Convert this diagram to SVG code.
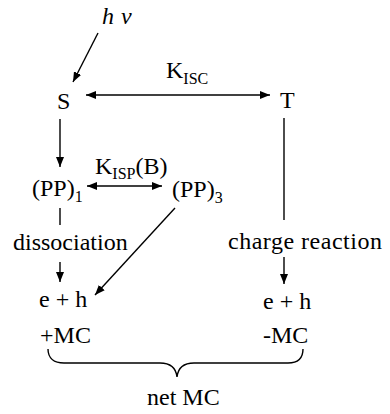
<svg xmlns="http://www.w3.org/2000/svg" width="390" height="414" viewBox="0 0 390 414">
<style>
text{font-family:"Liberation Serif","Times New Roman",serif;font-size:24px;fill:#000}
.sub{font-size:16px}
.ln{stroke:#000;stroke-width:1.4;fill:none}
</style>
<defs>
<marker id="ah" viewBox="0 0 10 8" refX="10" refY="4" markerWidth="10" markerHeight="8" markerUnits="userSpaceOnUse" orient="auto-start-reverse">
<path d="M0,0 L10,4 L0,8 Z" fill="#000"/>
</marker>
</defs>
<rect width="390" height="414" fill="#fff"/>
<g id="hv"><text x="102" y="24" font-style="italic">h</text><text x="121" y="24" font-style="italic">ν</text></g>
<g id="S"><text x="57" y="109">S</text></g>
<g id="T"><text x="280" y="108">T</text></g>
<g id="kisc"><text x="166" y="78">K<tspan class="sub" dy="6">ISC</tspan></text></g>
<g id="PP1"><text x="32" y="196">(PP)<tspan class="sub" dy="6">1</tspan></text></g>
<g id="PP3"><text x="172" y="197">(PP)<tspan class="sub" dy="6">3</tspan></text></g>
<g id="kisp"><text x="95" y="174">K<tspan class="sub" dy="5">ISP</tspan><tspan dy="-5">(B)</tspan></text></g>
<g id="diss"><text x="13" y="250">dissociation</text></g>
<g id="charge"><text x="228" y="249" textLength="154" lengthAdjust="spacing">charge reaction</text></g>
<g id="eh1"><text x="39" y="307">e + h</text></g>
<g id="eh2"><text x="263" y="309">e + h</text></g>
<g id="pmc"><text x="40" y="343">+MC</text></g>
<g id="mmc"><text x="263" y="343">-MC</text></g>
<g id="net"><text x="147" y="405">net MC</text></g>
<g id="connectors">
<line class="ln" x1="98" y1="33" x2="73" y2="82" marker-end="url(#ah)"/>
<line class="ln" x1="86" y1="95" x2="270" y2="95" marker-start="url(#ah)" marker-end="url(#ah)"/>
<line class="ln" x1="60" y1="119" x2="60" y2="167" marker-end="url(#ah)"/>
<line class="ln" x1="87" y1="186" x2="162" y2="186" marker-start="url(#ah)" marker-end="url(#ah)"/>
<line class="ln" x1="60" y1="208" x2="60" y2="225"/>
<line class="ln" x1="60" y1="262" x2="60" y2="282" marker-end="url(#ah)"/>
<line class="ln" x1="175" y1="208" x2="95" y2="295" marker-end="url(#ah)"/>
<line class="ln" x1="284" y1="118" x2="284" y2="220"/>
<line class="ln" x1="284" y1="257" x2="284" y2="284" marker-end="url(#ah)"/>
<path class="ln" d="M48,349 C48,358 54,363 64,363 L160,363 C170,363 176,368 177,377 C178,368 184,363 194,363 L288,363 C298,363 303,358 303,349"/>
</g>
</svg>
